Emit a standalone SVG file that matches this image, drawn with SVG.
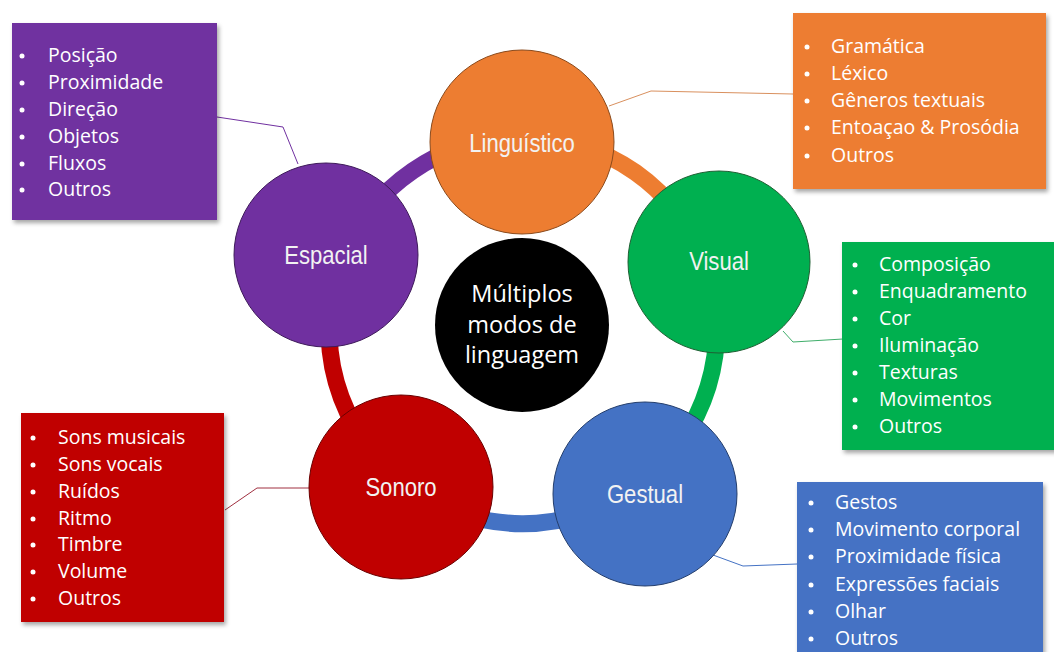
<svg xmlns="http://www.w3.org/2000/svg" width="1054" height="652" viewBox="0 0 1054 652">
<defs>
<filter id="sh" x="-10%" y="-10%" width="130%" height="130%">
<feDropShadow dx="2" dy="3" stdDeviation="2" flood-color="#000" flood-opacity="0.35"/>
</filter>
<style>
.ring{fill:none;stroke-width:17}
.node{stroke-width:1}
.lbl{font-family:"Liberation Sans",Arial,sans-serif;font-size:26px;fill:#f2f2f2;text-anchor:middle}
.list{font-family:"Open Sans","Noto Sans",sans-serif;font-size:19.5px;fill:#ffffff}
.ctr{font-family:"Open Sans","Noto Sans",sans-serif;font-size:23.5px;fill:#ffffff;text-anchor:middle}
.con{fill:none;stroke-width:1}
.bul{fill:#ffffff}
</style>
</defs>
<rect width="1054" height="652" fill="#ffffff"/>

<g id="ring">
<path class="ring" stroke="#7030A0" d="M341.7 261.2 A193 193 0 0 1 522 137"/>
<path class="ring" stroke="#ED7D31" d="M522 137 A193 193 0 0 1 706.5 267.2"/>
<path class="ring" stroke="#00B050" d="M706.5 267.2 A195 195 0 0 1 639.9 484.3"/>
<path class="ring" stroke="#4472C4" d="M639.9 484.3 A193 193 0 0 1 404.3 482.9"/>
<path class="ring" stroke="#C00000" d="M404.3 482.9 A193 193 0 0 1 341.7 261.2"/>
</g>

<g id="connectors">
<polyline class="con" stroke="#D9905E" points="609,106 651,91 793,94"/>
<polyline class="con" stroke="#7030A0" points="217,117 283,127 298,164"/>
<polyline class="con" stroke="#3FAE6A" points="783,331 793,342 843,339"/>
<polyline class="con" stroke="#4472C4" points="713,555 743,566 797,564"/>
<polyline class="con" stroke="#A03040" points="225,510 257,488 310,488"/>
</g>

<g id="center">
<circle cx="522" cy="325" r="87" fill="#000000"/>
<text class="ctr" x="522" y="302">Múltiplos</text>
<text class="ctr" x="522" y="333">modos de</text>
<text class="ctr" x="522" y="363">linguagem</text>
</g>

<g id="linguistico">
<circle class="node" cx="522" cy="142" r="92" fill="#ED7D31" stroke="#8a4a1c"/>
<text class="lbl" transform="translate(522 152) scale(0.85 1)">Linguístico</text>
</g>
<g id="visual">
<circle class="node" cx="719" cy="262" r="91" fill="#00B050" stroke="#1f5f33"/>
<text class="lbl" transform="translate(719 270) scale(0.85 1)">Visual</text>
</g>
<g id="gestual">
<circle class="node" cx="645" cy="494" r="92" fill="#4472C4" stroke="#243e6c"/>
<text class="lbl" transform="translate(645 503) scale(0.85 1)">Gestual</text>
</g>
<g id="sonoro">
<circle class="node" cx="401" cy="487" r="92" fill="#C00000" stroke="#6a0000"/>
<text class="lbl" transform="translate(401 496) scale(0.85 1)">Sonoro</text>
</g>
<g id="espacial">
<circle class="node" cx="326" cy="255" r="92" fill="#7030A0" stroke="#3e1a5a"/>
<text class="lbl" transform="translate(326 264) scale(0.85 1)">Espacial</text>
</g>

<g id="box-espacial">
<rect x="12" y="23" width="205" height="197" fill="#7030A0" filter="url(#sh)"/>
<g class="bul">
<circle cx="22" cy="56" r="2.5"/><circle cx="22" cy="83" r="2.5"/><circle cx="22" cy="110" r="2.5"/><circle cx="22" cy="137" r="2.5"/><circle cx="22" cy="164" r="2.5"/><circle cx="22" cy="190" r="2.5"/>
</g>
<text class="list" x="48" y="62">Posição</text>
<text class="list" x="48" y="89">Proximidade</text>
<text class="list" x="48" y="116">Direção</text>
<text class="list" x="48" y="143">Objetos</text>
<text class="list" x="48" y="170">Fluxos</text>
<text class="list" x="48" y="196">Outros</text>
</g>

<g id="box-linguistico">
<rect x="793" y="13" width="253" height="176" fill="#ED7D31" filter="url(#sh)"/>
<g class="bul">
<circle cx="807" cy="47" r="2.5"/><circle cx="807" cy="74" r="2.5"/><circle cx="807" cy="101" r="2.5"/><circle cx="807" cy="128" r="2.5"/><circle cx="807" cy="156" r="2.5"/>
</g>
<text class="list" x="831" y="53">Gramática</text>
<text class="list" x="831" y="80">Léxico</text>
<text class="list" x="831" y="107">Gêneros textuais</text>
<text class="list" x="831" y="134">Entoaçao &amp; Prosódia</text>
<text class="list" x="831" y="162">Outros</text>
</g>

<g id="box-visual">
<rect x="842" y="242" width="215" height="208" fill="#00B050" filter="url(#sh)"/>
<g class="bul">
<circle cx="855" cy="265" r="2.5"/><circle cx="855" cy="292" r="2.5"/><circle cx="855" cy="319" r="2.5"/><circle cx="855" cy="346" r="2.5"/><circle cx="855" cy="373" r="2.5"/><circle cx="855" cy="400" r="2.5"/><circle cx="855" cy="427" r="2.5"/>
</g>
<text class="list" x="879" y="271">Composição</text>
<text class="list" x="879" y="298">Enquadramento</text>
<text class="list" x="879" y="325">Cor</text>
<text class="list" x="879" y="352">Iluminação</text>
<text class="list" x="879" y="379">Texturas</text>
<text class="list" x="879" y="406">Movimentos</text>
<text class="list" x="879" y="433">Outros</text>
</g>

<g id="box-gestual">
<rect x="797" y="482" width="246" height="175" fill="#4472C4" filter="url(#sh)"/>
<g class="bul">
<circle cx="811" cy="503" r="2.5"/><circle cx="811" cy="530" r="2.5"/><circle cx="811" cy="557" r="2.5"/><circle cx="811" cy="585" r="2.5"/><circle cx="811" cy="612" r="2.5"/><circle cx="811" cy="639" r="2.5"/>
</g>
<text class="list" x="835" y="509">Gestos</text>
<text class="list" x="835" y="536">Movimento corporal</text>
<text class="list" x="835" y="563">Proximidade física</text>
<text class="list" x="835" y="591">Expressões faciais</text>
<text class="list" x="835" y="618">Olhar</text>
<text class="list" x="835" y="645">Outros</text>
</g>

<g id="box-sonoro">
<rect x="21" y="413" width="203" height="209" fill="#C00000" filter="url(#sh)"/>
<g class="bul">
<circle cx="33" cy="438" r="2.5"/><circle cx="33" cy="465" r="2.5"/><circle cx="33" cy="492" r="2.5"/><circle cx="33" cy="519" r="2.5"/><circle cx="33" cy="545" r="2.5"/><circle cx="33" cy="572" r="2.5"/><circle cx="33" cy="599" r="2.5"/>
</g>
<text class="list" x="58" y="444">Sons musicais</text>
<text class="list" x="58" y="471">Sons vocais</text>
<text class="list" x="58" y="498">Ruídos</text>
<text class="list" x="58" y="525">Ritmo</text>
<text class="list" x="58" y="551">Timbre</text>
<text class="list" x="58" y="578">Volume</text>
<text class="list" x="58" y="605">Outros</text>
</g>
</svg>
